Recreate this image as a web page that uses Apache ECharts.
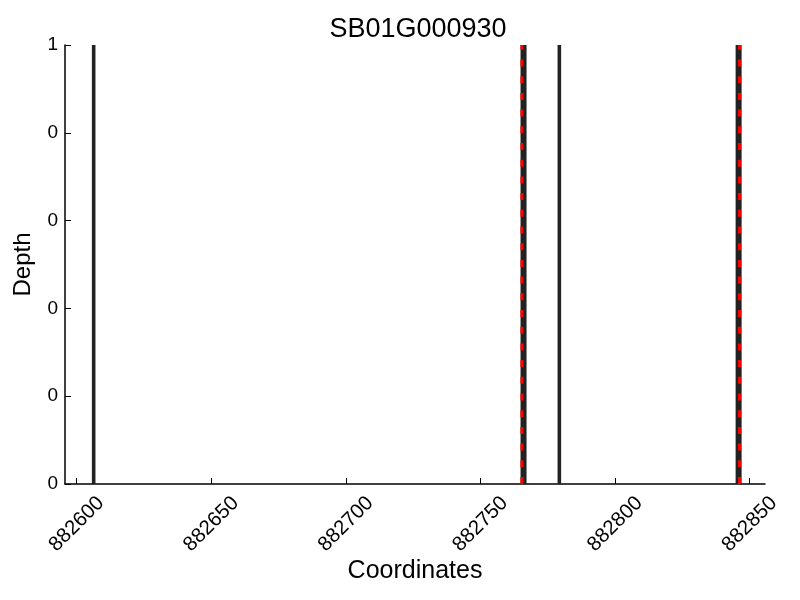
<!DOCTYPE html>
<html><head><meta charset="utf-8">
<script src="https://cdn.jsdelivr.net/npm/echarts@6/dist/echarts.min.js"></script>
<style>html,body{margin:0;padding:0;background:#fff}#c{width:800px;height:600px}</style>
</head><body><div id="c"></div>
<script>
const titleText = 'SB01G000930';
const xTicks = [882600, 882650, 882700, 882750, 882800, 882850];
const yTicks = [0, 0.2, 0.4, 0.6, 0.8, 1];
const blackLines = [882606.3, 882766.0, 882779.3, 882845.9];
const redLines = [882765.4, 882846.2];
const depthRange = [0, 1];

const font = 'Liberation Sans, Arial, sans-serif';
const series = [];
blackLines.forEach(x => {
  const paired = redLines.some(r => Math.abs(r - x) < 2);
  series.push({
    type: 'line', data: [[x, depthRange[0]], [x, depthRange[1]]], symbol: 'none',
    lineStyle: {color: '#222', width: paired ? 6 : 3.6}, z: 2, silent: true
  });
});
redLines.forEach(x => series.push({
  type: 'line', data: [[x, depthRange[0]], [x, depthRange[1]]], symbol: 'none',
  lineStyle: {color: '#ff0000', width: 3, type: [7, 9.7]}, z: 3, silent: true
}));

const chart = echarts.init(document.getElementById('c'), null, {renderer: 'canvas'});
chart.setOption({
  animation: false,
  backgroundColor: '#fff',
  title: {text: titleText, left: 413, top: 11, textAlign: 'center',
    textStyle: {fontFamily: font, fontSize: 27, fontWeight: 'normal', color: '#000'}},
  grid: {left: 65, right: 35, top: 45, bottom: 116, containLabel: false, outerBoundsMode: 'none'},
  xAxis: {
    type: 'value', min: 882595.65, max: 882855.7,
    name: 'Coordinates', nameLocation: 'middle', nameGap: 75, nameMoveOverlap: false,
    nameTextStyle: {fontFamily: font, fontSize: 25, color: '#000'},
    axisLine: {show: true, lineStyle: {color: '#000', width: 1.5}},
    axisTick: {show: true, inside: true, length: 6, customValues: xTicks, lineStyle: {color: '#000'}},
    axisLabel: {customValues: xTicks, rotate: 45, align: 'center', verticalAlign: 'middle',
      fontFamily: font, fontSize: 20.5, color: '#000', margin: 40,
      formatter: v => String(v)},
    splitLine: {show: false}
  },
  yAxis: {
    type: 'value', min: 0, max: 1,
    name: 'Depth', nameLocation: 'middle', nameGap: 30, nameRotate: 90,
    nameTextStyle: {fontFamily: font, fontSize: 24, color: '#000'},
    axisLine: {show: true, lineStyle: {color: '#000', width: 1.5}},
    axisTick: {show: true, inside: true, length: 6, customValues: yTicks, lineStyle: {color: '#000'}},
    axisLabel: {customValues: yTicks, fontFamily: font, fontSize: 19, color: '#000', margin: 7,
      formatter: v => String(Math.floor(v + 1e-9))},
    splitLine: {show: false}
  },
  series: series
});
</script></body></html>
